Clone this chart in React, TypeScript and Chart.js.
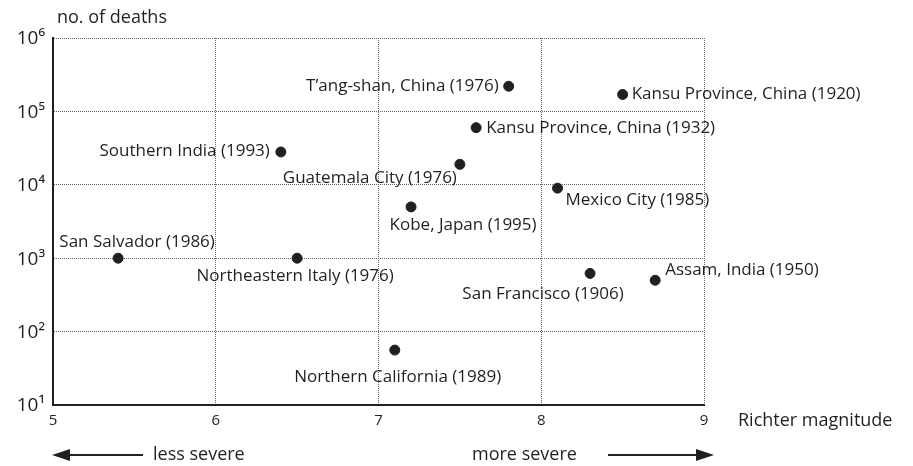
import React, { useEffect, useRef } from "react";
import { Chart, registerables } from "chart.js";

Chart.register(...registerables);

// ---- data ----
const places = [
  "San Salvador (1986)",
  "Northeastern Italy (1976)",
  "Southern India (1993)",
  "Northern California (1989)",
  "Kobe, Japan (1995)",
  "Guatemala City (1976)",
  "Kansu Province, China (1932)",
  "T\u2019ang-shan, China (1976)",
  "Mexico City (1985)",
  "San Francisco (1906)",
  "Kansu Province, China (1920)",
  "Assam, India (1950)",
];
const magnitudes = [5.4, 6.5, 6.4, 7.1, 7.2, 7.5, 7.6, 7.8, 8.1, 8.3, 8.5, 8.7];
const deaths = [1000, 1000, 28000, 56, 5000, 19000, 60000, 220000, 9000, 620, 170000, 500];

const xTickValues = [5, 6, 7, 8, 9];
const yTickValues = [10, 100, 1000, 10000, 100000, 1000000];
const yTickLabels = ["10\u00B9", "10\u00B2", "10\u00B3", "10\u2074", "10\u2075", "10\u2076"];

const xAxisTitle = "Richter magnitude";
const yAxisTitle = "no. of deaths";
const lessText = "less severe";
const moreText = "more severe";

// ---- label placement (style, not data): [align, dx, dy] ----
const labelPlacement: [CanvasTextAlign, number, number][] = [
  ["center", 19, -16],
  ["center", -2, 18],
  ["right", -11, -1],
  ["center", 3, 27],
  ["center", 52, 18],
  ["right", -3, 14],
  ["left", 10, 0],
  ["right", -10, 0],
  ["left", 8, 12],
  ["center", -47, 21],
  ["left", 9, 0],
  ["left", 10, -10],
];

const FONT = "'Open Sans', 'Noto Sans', sans-serif";
const INK = "#231f20";

export default function App() {
  const ref = useRef<HTMLCanvasElement | null>(null);

  useEffect(() => {
    const canvas = ref.current;
    if (!canvas) return;

    const annotations = {
      id: "annotations",
      afterDatasetsDraw(chart: any) {
        const ctx = chart.ctx as CanvasRenderingContext2D;
        const meta = chart.getDatasetMeta(0);
        ctx.save();
        ctx.fillStyle = INK;
        ctx.font = `17px ${FONT}`;
        ctx.textBaseline = "middle";
        meta.data.forEach((el: any, i: number) => {
          const [align, dx, dy] = labelPlacement[i];
          ctx.textAlign = align;
          ctx.fillText(places[i], el.x + dx, el.y + dy);
        });
        ctx.restore();
      },
      afterDraw(chart: any) {
        const ctx = chart.ctx as CanvasRenderingContext2D;
        const area = chart.chartArea;
        ctx.save();
        ctx.fillStyle = INK;
        ctx.strokeStyle = INK;
        ctx.textBaseline = "middle";
        ctx.font = `18px ${FONT}`;
        ctx.textAlign = "left";
        ctx.fillText(yAxisTitle, area.left + 4, 18);
        ctx.fillText(xAxisTitle, area.right + 34, 421);

        // arrows
        const ay = 455;
        ctx.lineWidth = 2;
        ctx.beginPath();
        ctx.moveTo(area.left + 15, ay);
        ctx.lineTo(area.left + 90, ay);
        ctx.stroke();
        ctx.beginPath();
        ctx.moveTo(area.left - 1, ay);
        ctx.lineTo(area.left + 17, ay - 6);
        ctx.lineTo(area.left + 17, ay + 6);
        ctx.closePath();
        ctx.fill();

        ctx.beginPath();
        ctx.moveTo(area.right - 96, ay);
        ctx.lineTo(area.right - 5, ay);
        ctx.stroke();
        ctx.beginPath();
        ctx.moveTo(area.right + 10, ay);
        ctx.lineTo(area.right - 8, ay - 6);
        ctx.lineTo(area.right - 8, ay + 6);
        ctx.closePath();
        ctx.fill();

        ctx.textAlign = "left";
        ctx.fillText(lessText, area.left + 100, ay);
        ctx.fillText(moreText, area.right - 232, ay);
        ctx.restore();
      },
    };

    const chart = new Chart(canvas, {
      type: "scatter",
      data: {
        datasets: [
          {
            data: magnitudes.map((m, i) => ({ x: m, y: deaths[i] })),
            backgroundColor: INK,
            borderColor: INK,
            pointRadius: 5,
            pointHoverRadius: 5,
          },
        ],
      },
      options: {
        responsive: false,
        animation: false,
        events: [],
        layout: { padding: { left: 0, top: 38, right: 209, bottom: 0 } },
        plugins: { legend: { display: false }, tooltip: { enabled: false } },
        scales: {
          x: {
            type: "linear",
            min: 5,
            max: 9,
            afterBuildTicks: (s: any) => {
              s.ticks = xTickValues.map((v) => ({ value: v }));
            },
            afterFit: (s: any) => {
              s.height = 61;
            },
            ticks: {
              color: INK,
              font: { family: FONT, size: 15 },
              padding: 7,
              maxRotation: 0,
              callback: (v: any) => String(v),
            },
            grid: { color: "#666", lineWidth: 1, drawTicks: false },
            border: { display: true, color: INK, width: 2, dash: [1, 1] },
          },
          y: {
            type: "logarithmic",
            min: 10,
            max: 1000000,
            afterBuildTicks: (s: any) => {
              s.ticks = yTickValues.map((v) => ({ value: v }));
            },
            afterFit: (s: any) => {
              s.width = 53;
            },
            ticks: {
              color: INK,
              font: { family: FONT, size: 19 },
              padding: 8,
              labelOffset: 1,
              callback: (v: any) => {
                const idx = yTickValues.indexOf(Number(v));
                return idx >= 0 ? yTickLabels[idx] : "";
              },
            },
            grid: { color: "#666", lineWidth: 1, drawTicks: false },
            border: { display: true, color: INK, width: 2, dash: [1, 1] },
          },
        },
      },
      plugins: [annotations],
    } as any);

    return () => chart.destroy();
  }, []);

  return (
    <div style={{ position: "fixed", left: 0, top: 0, width: 913, height: 466, background: "#fff" }}>
      <canvas ref={ref} width={913} height={466} />
    </div>
  );
}
